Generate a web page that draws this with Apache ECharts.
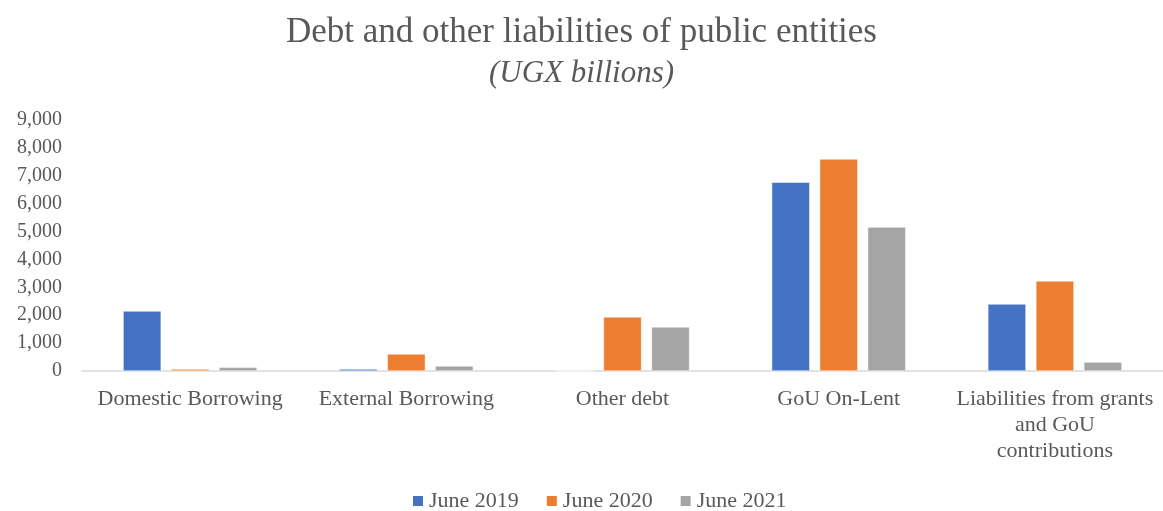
<!DOCTYPE html>
<html><head><meta charset="utf-8">
<script src="https://cdn.jsdelivr.net/npm/echarts@6/dist/echarts.min.js"></script>
<style>html,body{margin:0;padding:0;background:#fff}#c{width:1163px;height:511px}</style>
</head><body><div id="c"></div>
<script>
const categories = ["Domestic Borrowing", "External Borrowing", "Other debt", "GoU On-Lent", "Liabilities from grants\nand GoU\ncontributions"];
const seriesNames = ["June 2019", "June 2020", "June 2021"];
const june2019 = [2150, 70, 0, 6770, 2400];
const june2020 = [70, 610, 1940, 7600, 3230];
const june2021 = [130, 180, 1580, 5160, 320];
const yTicks = {min: 0, max: 9000, interval: 1000};
const colors = ["#4472C4", "#ED7D31", "#A5A5A5"];
const font = "'Liberation Serif', 'DejaVu Serif', serif";
const txt = "#595959";
const chart = echarts.init(document.getElementById('c'));
const data = [june2019, june2020, june2021];
chart.setOption({
  animation: false,
  title: [
    {text: "Debt and other liabilities of public entities", left: 'center', top: 10,
     textStyle: {fontFamily: font, fontSize: 35, fontWeight: 'normal', color: txt}},
    {text: "(UGX billions)", left: 'center', top: 53,
     textStyle: {fontFamily: font, fontSize: 31, fontWeight: 'normal', fontStyle: 'italic', color: txt}}
  ],
  legend: {top: 485, left: 406, itemWidth: 12, itemHeight: 12, itemGap: 26, itemTextGap: 5, icon: 'rect',
    textStyle: {fontFamily: font, fontSize: 22, color: txt}, data: seriesNames},
  grid: {left: 82, right: -6, top: 120, bottom: 140, containLabel: false},
  xAxis: {type: 'category', data: categories,
    axisLine: {lineStyle: {color: '#D9D9D9', width: 1.5}}, axisTick: {show: false},
    axisLabel: {interval: 0, fontFamily: font, fontSize: 22, color: txt, margin: 15, lineHeight: 26}},
  yAxis: {type: 'value', min: yTicks.min, max: yTicks.max, interval: yTicks.interval,
    splitLine: {show: false}, axisLine: {show: false}, axisTick: {show: false},
    axisLabel: {fontFamily: font, fontSize: 20, color: txt, margin: 20, padding: [3, 0, 0, 0],
      formatter: v => v.toLocaleString('en-US')}},
  series: seriesNames.map((n, i) => ({
    name: n, type: 'bar', data: data[i], barGap: '26%', barCategoryGap: '38%',
    itemStyle: {color: colors[i], borderColor: '#fff', borderWidth: 0.5}
  }))
});
</script></body></html>
